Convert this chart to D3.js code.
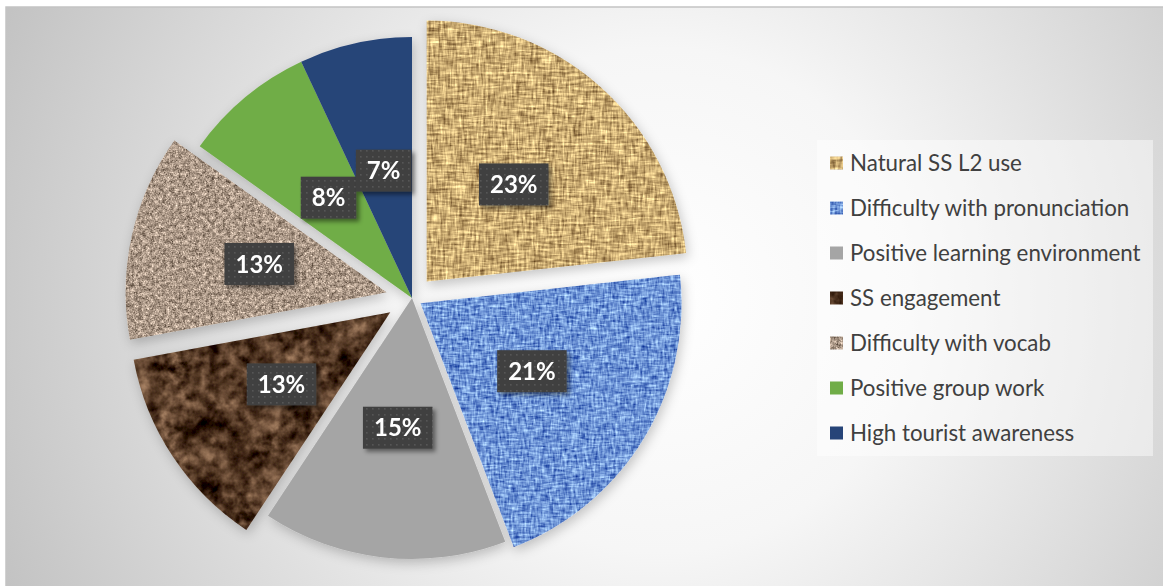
<!DOCTYPE html>
<html><head><meta charset="utf-8">
<script src="https://cdn.jsdelivr.net/npm/d3@7"></script>
<style>body{margin:0;background:#fff}svg{display:block}</style>
</head><body>
<svg id="chart" width="1163" height="586"></svg>
<script>
// ---- data ----
const categories = ["Natural SS L2 use","Difficulty with pronunciation","Positive learning environment","SS engagement","Difficulty with vocab","Positive group work","High tourist awareness"];
const counts = [20, 18, 13, 11, 11, 7, 6];

// ---- style ----
const sliceFill = ["url(#texTan)","url(#texBlue)","#a5a5a5","url(#texBrown)","url(#texGranite)","#70ad47","#264478"];
const explode = [22, 10, 0, 26, 26, 0, 0];

const svg = d3.select("#chart");
const defs = svg.append("defs");

// background gradient
const bg = defs.append("radialGradient").attr("id","bgGrad").attr("gradientUnits","userSpaceOnUse")
  .attr("cx",660).attr("cy",300).attr("r",720);
[[0,"#ffffff"],[0.35,"#f6f6f6"],[0.7,"#dadada"],[1,"#c2c2c2"]].forEach(s=>bg.append("stop").attr("offset",s[0]).attr("stop-color",s[1]));

// texture filters
function noiseFilter(id, layers, matrix){
  const f = defs.append("filter").attr("id",id).attr("x",0).attr("y",0).attr("width",1).attr("height",1)
    .attr("color-interpolation-filters","sRGB");
  layers.forEach((L,i)=>{
    f.append("feTurbulence").attr("type",L.type||"fractalNoise").attr("baseFrequency",L.freq)
      .attr("numOctaves",L.oct||1).attr("seed",L.seed||3).attr("result","n"+i);
  });
  let last = "n0";
  if(layers.length>1){
    f.append("feComposite").attr("in","n0").attr("in2","n1").attr("operator","arithmetic")
      .attr("k1",0).attr("k2",0.5).attr("k3",0.5).attr("k4",0).attr("result","nm");
    last = "nm";
  }
  f.append("feColorMatrix").attr("in",last).attr("type","matrix").attr("values",matrix).attr("result","col");
  f.append("feComposite").attr("in","col").attr("in2","SourceGraphic").attr("operator","in");
}
noiseFilter("fTan",[{freq:"0.07 0.42",oct:2,seed:5},{freq:"0.42 0.07",oct:2,seed:9}],
  "1.25 0 0 0 0.17  1.25 0 0 0 0.05  1.0 0 0 0 -0.05  0 0 0 0 1");
noiseFilter("fBlue",[{freq:"0.1 0.45",oct:2,seed:2},{freq:"0.45 0.1",oct:2,seed:7}],
  "1.25 0 0 0 -0.19  1.25 0 0 0 -0.04  0.8 0 0 0 0.44  0 0 0 0 1");
noiseFilter("fBrown",[{freq:"0.03",oct:4,seed:11},{freq:"0.1",oct:3,seed:4}],
  "1.2 0 0 0 -0.28  1.05 0 0 0 -0.31  0.9 0 0 0 -0.31  0 0 0 0 1");
noiseFilter("fGranite",[{freq:"0.7",oct:2,seed:6},{freq:"0.25",oct:2,seed:8}],
  "1.3 0 0 0 0.02  1.25 0 0 0 -0.03  1.2 0 0 0 -0.07  0 0 0 0 1");
const texFilter = {"url(#texTan)":"fTan","url(#texBlue)":"fBlue","url(#texBrown)":"fBrown","url(#texGranite)":"fGranite"};

// shadows
const sh = defs.append("filter").attr("id","pieShadow").attr("x","-20%").attr("y","-20%").attr("width","140%").attr("height","140%");
sh.append("feDropShadow").attr("dx",2).attr("dy",4).attr("stdDeviation",6).attr("flood-color","#000").attr("flood-opacity",0.22);
const lsh = defs.append("filter").attr("id","lblShadow").attr("x","-20%").attr("y","-20%").attr("width","150%").attr("height","150%");
lsh.append("feDropShadow").attr("dx",3).attr("dy",3).attr("stdDeviation",2).attr("flood-color","#000").attr("flood-opacity",0.45);

// dotted label pattern
const pat = defs.append("pattern").attr("id","dots").attr("width",6).attr("height",6).attr("patternUnits","userSpaceOnUse");
pat.append("rect").attr("width",6).attr("height",6).attr("fill","#404040");
pat.append("rect").attr("x",2).attr("y",2).attr("width",1.6).attr("height",1.6).attr("fill","#575757");

// background
svg.append("rect").attr("x",6).attr("y",7).attr("width",1200).attr("height",620)
  .attr("fill","url(#bgGrad)").attr("stroke","#c4c4c4").attr("stroke-width",1.5);

// pie
const cx = 412, cy = 298, R = 261;
const pie = d3.pie().sort(null).value(d=>d);
const arcs = pie(counts);
const arc = d3.arc().innerRadius(0).outerRadius(R);
const total = d3.sum(counts);

const g = svg.append("g").attr("transform",`translate(${cx},${cy})`).attr("filter","url(#pieShadow)");
function off(a,i){ const m=(a.startAngle+a.endAngle)/2; return [Math.sin(m)*explode[i], -Math.cos(m)*explode[i]]; }

arcs.forEach((a,i)=>{
  const [dx,dy] = off(a,i);
  const p = g.append("path").attr("d",arc(a)).attr("transform",`translate(${dx},${dy})`);
  const f = sliceFill[i];
  if(texFilter[f]) p.attr("fill","#000").attr("filter",`url(#${texFilter[f]})`);
  else p.attr("fill",f);
});

// labels
const lg = svg.append("g").attr("transform",`translate(${cx},${cy})`);
arcs.forEach((a,i)=>{
  const [dx,dy] = off(a,i);
  const c = arc.centroid(a);
  const x = c[0]+dx, y = c[1]+dy;
  const grp = lg.append("g");
  const t = grp.append("text").attr("x",x).attr("y",y).attr("text-anchor","middle").attr("dy","0.36em")
    .attr("font-family","Lato, 'Open Sans', sans-serif").attr("font-weight",700).attr("font-size",24)
    .attr("fill","#fff").text(Math.round(counts[i]/total*100)+"%");
  const w = t.node().getComputedTextLength();
  grp.insert("rect","text").attr("x",x-w/2-11).attr("y",y-21).attr("width",w+22).attr("height",42)
    .attr("fill","url(#dots)").attr("filter","url(#lblShadow)");
});

// legend
svg.append("rect").attr("x",817).attr("y",140).attr("width",336).attr("height",316).attr("fill","#fff").attr("opacity",0.45);
const leg = svg.append("g");
categories.forEach((name,i)=>{
  const y = 163 + i*45;
  const f = sliceFill[i];
  const r = leg.append("rect").attr("x",830).attr("y",y-6.5).attr("width",13).attr("height",13);
  if(texFilter[f]) r.attr("fill","#000").attr("filter",`url(#${texFilter[f]})`); else r.attr("fill",f);
  leg.append("text").attr("x",850).attr("y",y).attr("dy","0.35em")
    .attr("font-family","Lato, 'Open Sans', sans-serif").attr("font-size",22.3).attr("fill","#404040").text(name);
});
</script>
</body></html>
